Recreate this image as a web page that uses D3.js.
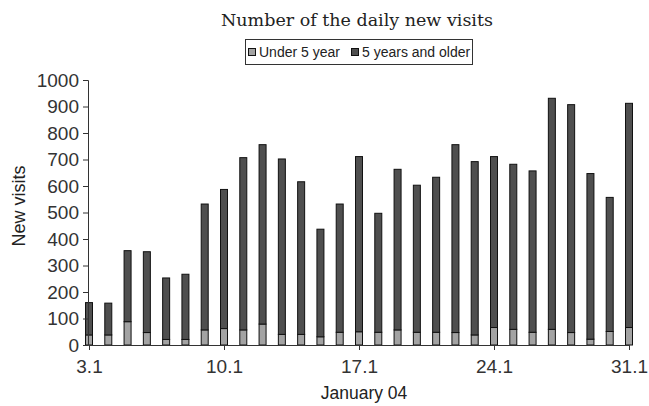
<!DOCTYPE html>
<html>
<head>
<meta charset="utf-8">
<script src="https://cdn.jsdelivr.net/npm/d3@7"></script>
<style>
  html, body { margin: 0; padding: 0; background: #fff; }
  svg { display: block; }
</style>
</head>
<body>
<div id="chart"></div>
<script>
// Data (January 2004, day of month)
const days = [3,4,5,6,7,8,9,10,11,12,13,14,15,16,17,18,19,20,21,22,23,24,25,26,27,28,29,30,31];
const under5 = [38,38,88,47,21,21,57,62,57,79,40,40,31,48,50,48,57,48,48,47,38,66,59,48,59,47,22,51,66];
const older  = [122,120,268,305,232,246,475,525,650,677,662,576,406,484,661,449,606,555,585,709,654,645,623,609,872,860,625,506,846];
const xTickValues = [3,10,17,24,31];
const xTickLabels = ["3.1","10.1","17.1","24.1","31.1"];
const yTicks = [0,100,200,300,400,500,600,700,800,900,1000];
const seriesNames = ["Under 5 year","5 years and older"];
const seriesColors = ["#a3a3a3","#4f4f4f"];

const W = 649, H = 406;
const svg = d3.select("#chart").append("svg").attr("width", W).attr("height", H);

const x = d3.scaleLinear().domain([3, 31]).range([89, 629]);
const y = d3.scaleLinear().domain([0, 1000]).range([345, 80]);
const barW = 7;

// Title
svg.append("text")
  .attr("x", 357).attr("y", 26)
  .attr("text-anchor", "middle")
  .attr("font-family", "DejaVu Serif")
  .attr("font-size", 17.5)
  .attr("fill", "#222")
  .text("Number of the daily new visits");

// Legend
const lg = svg.append("g");
lg.append("rect").attr("x", 245.5).attr("y", 39.5).attr("width", 227).attr("height", 25)
  .attr("fill", "#fff").attr("stroke", "#333").attr("stroke-width", 1);
const legendItems = [{sq: 248.5, tx: 259}, {sq: 351.5, tx: 362}];
legendItems.forEach((it, i) => {
  lg.append("rect").attr("x", it.sq).attr("y", 48.5).attr("width", 7).attr("height", 7)
    .attr("fill", seriesColors[i]).attr("stroke", "#111");
  lg.append("text").attr("x", it.tx).attr("y", 57)
    .attr("font-family", "Liberation Sans").attr("font-size", 14).attr("fill", "#222")
    .text(seriesNames[i]);
});

// Bars
const stackData = days.map((d, i) => ({day: d, u: under5[i], o: older[i]}));
const stack = d3.stack().keys(["u", "o"])(stackData);
svg.append("g").selectAll("g").data(stack).join("g")
  .attr("fill", (s, i) => seriesColors[i])
  .attr("stroke", "#111").attr("stroke-width", 1)
  .selectAll("rect").data(s => s).join("rect")
  .attr("x", d => x(d.data.day) - barW / 2)
  .attr("y", d => y(d[1]))
  .attr("width", barW)
  .attr("height", d => y(d[0]) - y(d[1]));

// Y axis
const yAxis = svg.append("g").attr("transform", "translate(88,0)")
  .call(d3.axisLeft(y).tickValues(yTicks).tickFormat(d3.format("d"))
    .tickSize(5).tickSizeOuter(5).tickPadding(4));
yAxis.selectAll("text").attr("font-family", "Liberation Sans").attr("font-size", 19).attr("fill", "#333");
yAxis.selectAll("line,path").attr("stroke", "#333");

// X axis
const xAxis = svg.append("g").attr("transform", "translate(0,345)")
  .call(d3.axisBottom(x).tickValues(xTickValues).tickFormat((d, i) => xTickLabels[i])
    .tickSize(5).tickSizeOuter(0).tickPadding(10));
xAxis.selectAll("text").attr("font-family", "Liberation Sans").attr("font-size", 19).attr("fill", "#333");
xAxis.selectAll("line,path").attr("stroke", "#333");

// Axis titles
svg.append("text")
  .attr("transform", "translate(25,206) rotate(-90)")
  .attr("text-anchor", "middle")
  .attr("font-family", "Liberation Sans").attr("font-size", 18).attr("fill", "#222")
  .text("New visits");
svg.append("text")
  .attr("x", 364).attr("y", 399)
  .attr("text-anchor", "middle")
  .attr("font-family", "Liberation Sans").attr("font-size", 17.5).attr("fill", "#222")
  .text("January 04");
</script>
</body>
</html>
